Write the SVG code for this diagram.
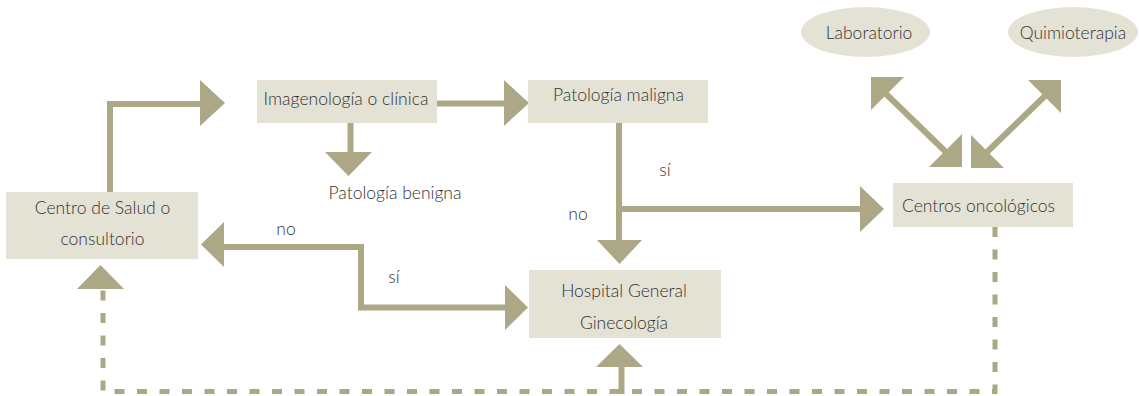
<svg xmlns="http://www.w3.org/2000/svg" width="1139" height="396" viewBox="0 0 1139 396">
  <style>
    .box { fill: #e4e1d5; }
    .lbl { font-family: Lato, "Liberation Sans", sans-serif; font-weight: 300; font-size: 17.5px; fill: #333333; text-anchor: middle; }
    .line { fill: none; stroke: #aca886; stroke-width: 6; }
    .dash { fill: none; stroke: #aca886; stroke-width: 5; stroke-dasharray: 10 12.5; }
    .head { fill: #aca886; }
  </style>
  <rect width="1139" height="396" fill="#ffffff"/>

  <!-- connectors -->
  <g id="connectors">
    <!-- Centro de Salud up and over to Imagenología -->
    <path class="line" d="M110,192 V104 H203"/>
    <polygon class="head" points="200,80 200,126 225,103"/>
    <!-- Imagenología to Patología maligna -->
    <path class="line" d="M437,103.5 H506"/>
    <polygon class="head" points="504,80 504,126 529,103"/>
    <!-- Imagenología down to Patología benigna -->
    <path class="line" d="M350.5,123 V154"/>
    <polygon class="head" points="325,152 372,152 348.5,176"/>
    <!-- Patología maligna down to Hospital, branch to Centros oncológicos -->
    <path class="line" d="M619,123 V242"/>
    <polygon class="head" points="597,240 642,240 619.5,264"/>
    <path class="line" d="M619,209 H862"/>
    <polygon class="head" points="860,186 860,232 884,209"/>
    <!-- Hospital / Centro de Salud link -->
    <path class="line" d="M507,307.5 H361 V247 H222"/>
    <polygon class="head" points="224,222 224,267 201,244.5"/>
    <polygon class="head" points="505,285 505,330 528,307.5"/>
    <!-- Centros oncológicos <-> Laboratorio -->
    <path class="line" d="M883,91 L950,156"/>
    <polygon class="head" points="871,77 904,77 871,110"/>
    <polygon class="head" points="962,167 962,134 929,167"/>
    <!-- Centros oncológicos <-> Quimioterapia -->
    <path class="line" d="M984,155 L1049,92"/>
    <polygon class="head" points="971,168 971,135 1004,168"/>
    <polygon class="head" points="1061,80 1028,80 1061,113"/>
    <!-- return path (dashed) -->
    <path class="dash" d="M995,227 V391.5 H103 V289"/>
    <polygon class="head" points="77,289 124,289 100.5,265"/>
    <path class="line" d="M621.5,394 V366" stroke-width="5"/>
    <polygon class="head" points="596,367 643,367 619.5,344"/>
  </g>

  <!-- edge labels -->
  <g id="edge-labels">
    <text class="lbl" x="665" y="176">sí</text>
    <text class="lbl" x="578" y="220">no</text>
    <text class="lbl" x="286" y="235">no</text>
    <text class="lbl" x="394" y="283">sí</text>
  </g>

  <g id="centro-salud">
    <rect class="box" x="6" y="192" width="192" height="67"/>
    <text class="lbl" x="102.5" y="214">Centro de Salud o</text>
    <text class="lbl" x="102.5" y="245">consultorio</text>
  </g>

  <g id="imagenologia">
    <rect class="box" x="257" y="80" width="180" height="43"/>
    <text class="lbl" x="346" y="105">Imagenología o clínica</text>
  </g>

  <g id="patologia-benigna">
    <text class="lbl" x="395" y="199">Patología benigna</text>
  </g>

  <g id="patologia-maligna">
    <rect class="box" x="528" y="80" width="180" height="43"/>
    <text class="lbl" x="618.5" y="101">Patología maligna</text>
  </g>

  <g id="centros-oncologicos">
    <rect class="box" x="893" y="183" width="180" height="44"/>
    <text class="lbl" x="978.5" y="212">Centros oncológicos</text>
  </g>

  <g id="hospital">
    <rect class="box" x="529" y="270" width="192" height="68"/>
    <text class="lbl" x="624" y="297">Hospital General</text>
    <text class="lbl" x="624" y="329">Ginecología</text>
  </g>

  <g id="laboratorio">
    <ellipse class="box" cx="865.5" cy="32" rx="64.5" ry="25"/>
    <text class="lbl" x="869" y="39">Laboratorio</text>
  </g>

  <g id="quimioterapia">
    <ellipse class="box" cx="1073" cy="32" rx="65" ry="25"/>
    <text class="lbl" x="1073" y="39">Quimioterapia</text>
  </g>
</svg>
